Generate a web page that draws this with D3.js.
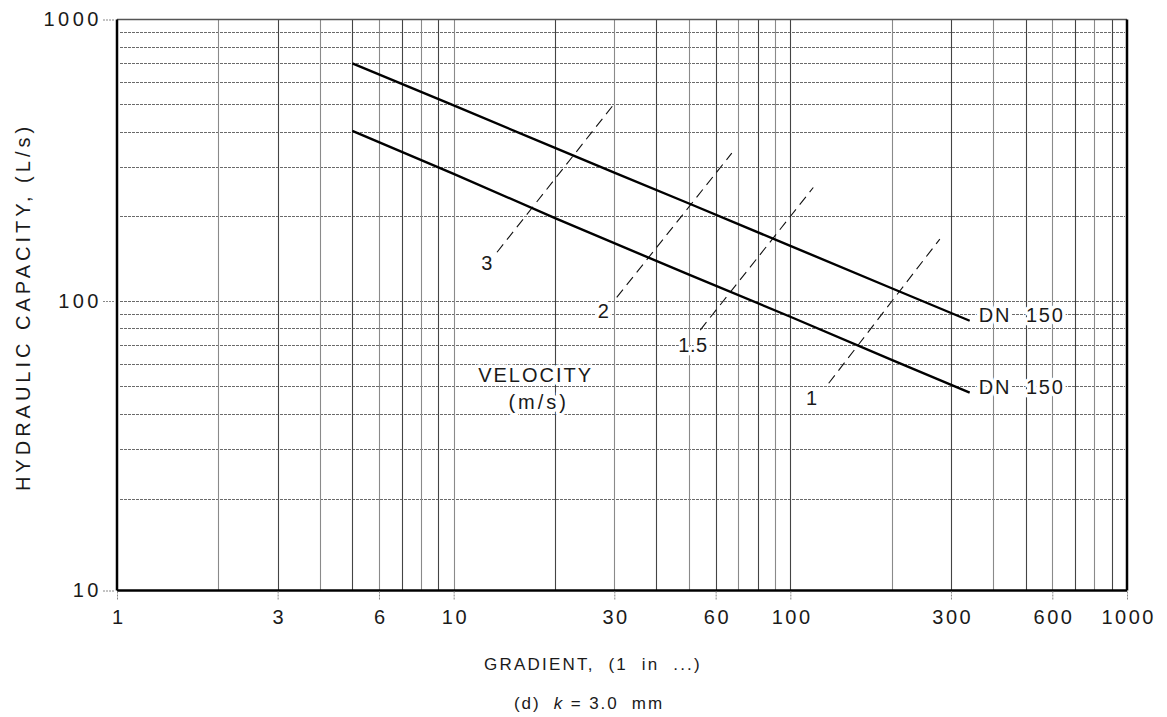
<!DOCTYPE html>
<html>
<head>
<meta charset="utf-8">
<script src="https://cdn.jsdelivr.net/npm/d3@7"></script>
<style>
  body { margin: 0; background: #fff; }
  svg text { font-family: "Liberation Sans", Arial, sans-serif; fill: #1a1a1a; }
</style>
</head>
<body>
<svg id="chart" width="1167" height="717"></svg>
<script>
// tick labels
var gradientTicks = [1, 3, 6, 10, 30, 60, 100, 300, 600, 1000];
var capacityTicks = [10, 100, 1000];

// pipe curves (gradient 1 in ..., capacity L/s)
var upperGradient = [5, 10, 20, 30, 50, 100, 200, 341];
var upperCapacity = [699, 495, 350, 286, 222, 157, 111, 85.2];
var upperLabel = "DN 150";

var lowerGradient = [5, 10, 20, 50, 100, 200, 341];
var lowerCapacity = [402, 283, 197, 124, 88, 62, 47.5];
var lowerLabel = "DN 150";

// velocity lines (m/s), each a dashed segment
var velocityNames = ["3", "2", "1.5", "1"];
var velocityGradient = [[13.45, 29.8], [30.5, 67], [54, 117], [130, 278]];
var velocityCapacity = [[149, 497], [103, 335], [79, 253], [51.3, 166]];
var velocityLabelGradient = [12.56, 27.9, 51.4, 115.9];
var velocityLabelCapacity = [136, 92, 70, 45.5];

var svg = d3.select("#chart");
var x = d3.scaleLog().domain([1, 1000]).range([117, 1127]);
// the printed grid is slightly uneven, calibrated on its lines
var y = d3.scaleLog().domain([10, 20, 100, 1000]).range([590.5, 499.3, 301, 19.5]);

// grid values 1..9 x decade
var gridX = [], gridY = [];
[1, 10, 100].forEach(function (d) {
  for (var m = 1; m < 10; m++) gridX.push(d * m);
});
gridX.push(1000);
[10, 100].forEach(function (d) {
  for (var m = 1; m < 10; m++) gridY.push(d * m);
});
gridY.push(1000);

// horizontal grid: fine dotted
svg.append("g").selectAll("line")
  .data(gridY.slice(1, -1))
  .enter().append("line")
  .attr("x1", x(1) + 3).attr("x2", x(1000) - 2)
  .attr("y1", function (d) { return Math.round(y(d)) + 0.5; })
  .attr("y2", function (d) { return Math.round(y(d)) + 0.5; })
  .attr("stroke", "#6a6a6a")
  .attr("stroke-width", 1)
  .attr("stroke-dasharray", "3,1");

// vertical grid: solid
svg.append("g").selectAll("line")
  .data(gridX.slice(1, -1))
  .enter().append("line")
  .attr("x1", function (d) { return Math.round(x(d)) + 0.5; })
  .attr("x2", function (d) { return Math.round(x(d)) + 0.5; })
  .attr("y1", y(1000)).attr("y2", y(10))
  .attr("stroke", function (d, i) { return i % 2 ? "#444" : "#8a8a8a"; })
  .attr("stroke-width", 1.1);

// frame
svg.append("line").attr("x1", x(1)).attr("x2", x(1000)).attr("y1", y(1000)).attr("y2", y(1000))
  .attr("stroke", "#555").attr("stroke-width", 1.5);
svg.append("line").attr("x1", x(1)).attr("x2", x(1000)).attr("y1", y(10)).attr("y2", y(10))
  .attr("stroke", "#000").attr("stroke-width", 2.5);
svg.append("line").attr("x1", x(1)).attr("x2", x(1)).attr("y1", y(1000)).attr("y2", y(10))
  .attr("stroke", "#000").attr("stroke-width", 2.5);
svg.append("line").attr("x1", x(1000)).attr("x2", x(1000)).attr("y1", y(1000)).attr("y2", y(10))
  .attr("stroke", "#000").attr("stroke-width", 2.5);

// axes
var xAxis = d3.axisBottom(x).tickValues(gradientTicks).tickFormat(d3.format("d")).tickSize(8).tickPadding(10);
var gx = svg.append("g").attr("transform", "translate(0," + (y(10) + 1) + ")").call(xAxis);
gx.select(".domain").remove();
gx.selectAll(".tick line").attr("stroke", "#888").attr("stroke-dasharray", "2,1");
gx.selectAll(".tick text").attr("font-size", 20).attr("letter-spacing", 2.5)
  .attr("dx", 1.25)
  .attr("font-family", "Liberation Sans, Arial, sans-serif").attr("fill", "#1a1a1a");

var yAxis = d3.axisLeft(y).tickValues(capacityTicks).tickFormat(d3.format("d")).tickSize(12).tickPadding(0);
var gy = svg.append("g").attr("transform", "translate(" + (x(1) - 3) + ",0)").call(yAxis);
gy.select(".domain").remove();
gy.selectAll(".tick line").attr("stroke", "#888").attr("stroke-dasharray", "2,1");
gy.selectAll(".tick text").attr("font-size", 20).attr("letter-spacing", 3.5)
  .attr("font-family", "Liberation Sans, Arial, sans-serif").attr("fill", "#1a1a1a");

// axis titles
svg.append("text")
  .attr("transform", "translate(30,307) rotate(-90)")
  .attr("text-anchor", "middle")
  .attr("font-size", 20)
  .attr("letter-spacing", 4)
  .text("HYDRAULIC CAPACITY, (L/s)");

svg.append("text")
  .attr("x", 593).attr("y", 670)
  .attr("text-anchor", "middle")
  .attr("font-size", 17)
  .attr("letter-spacing", 2.2)
  .style("white-space", "pre")
  .text("GRADIENT,  (1  in  ...)");

var cap = svg.append("text")
  .attr("x", 589).attr("y", 709)
  .attr("text-anchor", "middle")
  .attr("font-size", 17)
  .attr("letter-spacing", 1.9)
  .style("white-space", "pre");
cap.append("tspan").text("(d)  ");
cap.append("tspan").attr("font-style", "italic").text("k");
cap.append("tspan").text(" = 3.0  mm");

// velocity dashed lines
var line = d3.line().x(function (d) { return x(d[0]); }).y(function (d) { return y(d[1]); });
velocityNames.forEach(function (v, i) {
  var pts = d3.zip(velocityGradient[i], velocityCapacity[i]);
  svg.append("path").attr("d", line(pts))
    .attr("fill", "none").attr("stroke", "#111").attr("stroke-width", 1.1)
    .attr("stroke-dasharray", "10,6");
});

// velocity labels with white halo
function halo(sel) {
  sel.attr("stroke", "#fff").attr("stroke-width", 7).attr("paint-order", "stroke")
    .attr("stroke-linejoin", "round");
}
velocityNames.forEach(function (v, i) {
  svg.append("text")
    .attr("x", x(velocityLabelGradient[i])).attr("y", y(velocityLabelCapacity[i]))
    .attr("text-anchor", "middle").attr("dominant-baseline", "central")
    .attr("font-size", 20).attr("letter-spacing", 0.5)
    .call(halo).text(v);
});
svg.append("text").attr("x", x(17.4) + 1).attr("y", y(54.9)).attr("text-anchor", "middle")
  .attr("dominant-baseline", "central").attr("font-size", 20).attr("letter-spacing", 2)
  .call(halo).text("VELOCITY");
svg.append("text").attr("x", x(17.7) + 1.5).attr("y", y(44)).attr("text-anchor", "middle")
  .attr("dominant-baseline", "central").attr("font-size", 20).attr("letter-spacing", 3)
  .call(halo).text("(m/s)");

// pipe curves
[[upperGradient, upperCapacity, upperLabel], [lowerGradient, lowerCapacity, lowerLabel]].forEach(function (c) {
  var pts = d3.zip(c[0], c[1]);
  svg.append("path").attr("d", line(pts))
    .attr("fill", "none").attr("stroke", "#000").attr("stroke-width", 2.4);
  var last = pts[pts.length - 1];
  svg.append("text")
    .attr("x", x(last[0]) + 9).attr("y", y(last[1]) - 6)
    .attr("dominant-baseline", "central")
    .attr("font-size", 20).attr("letter-spacing", 1.8)
    .style("white-space", "pre")
    .call(halo)
    .text(c[2].replace(" ", "  "));
});
</script>
</body>
</html>
